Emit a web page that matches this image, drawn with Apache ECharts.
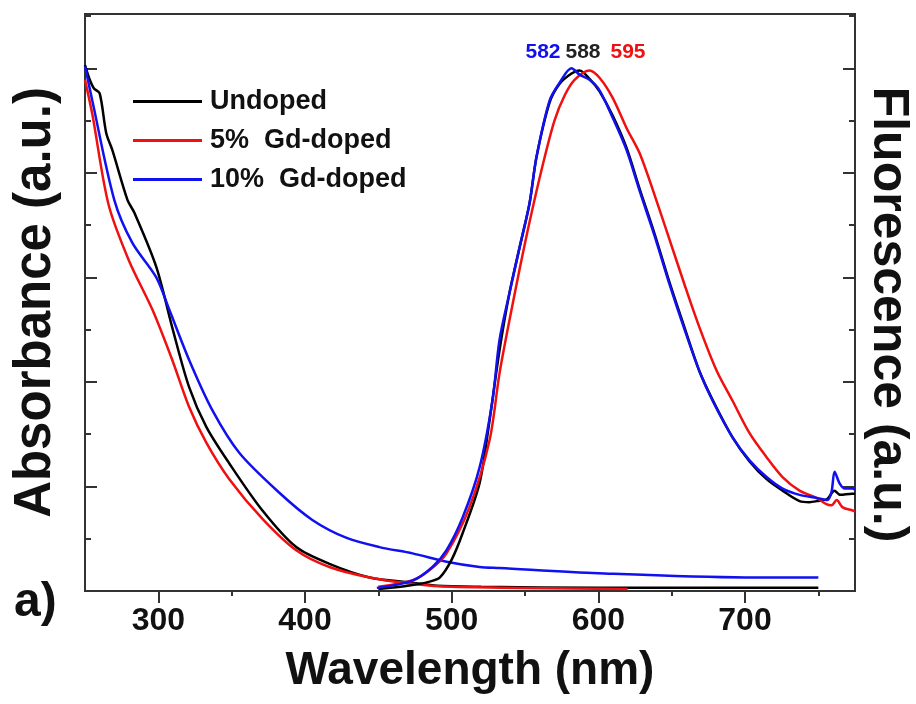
<!DOCTYPE html>
<html><head><meta charset="utf-8">
<script src="https://cdn.jsdelivr.net/npm/echarts@6/dist/echarts.min.js"></script>
<style>html,body{margin:0;padding:0;background:#fff}#c{width:916px;height:704px}</style>
</head><body><div id="c"></div>
<script>
// ---- tick values ----
const xMajorTicks = [300, 400, 500, 600, 700];
const xMinorTicks = [350, 450, 550, 650, 750];
const seriesNames = ['Undoped', '5%  Gd-doped', '10%  Gd-doped'];
const peakLabels = ['582', '588', '595'];

// ---- absorbance (nm, a.u.) ----
const absUndoped = [[250,5.03],[253,4.90],[256,4.81],[260,4.76],[264.5,4.38],[268.6,4.22],[279,3.74],[283.6,3.62],[298.6,3.10],[309.5,2.52],[321,1.95],[332.7,1.57],[348.4,1.22],[371,0.77],[394,0.42],[416.6,0.26],[444,0.13],[473,0.08],[490,0.05],[520,0.04],[600,0.03],[750,0.03]];
const absGd5 = [[250,4.89],[255,4.56],[266,3.70],[280,3.16],[296,2.69],[309.5,2.21],[321,1.76],[332.7,1.42],[348.4,1.07],[371,0.69],[394,0.39],[416.6,0.23],[444,0.13],[473,0.07],[500,0.04],[620,0.02]];
const absGd10 = [[250,5.02],[255,4.69],[270,3.74],[282.3,3.33],[298.6,3.00],[307.5,2.69],[321,2.21],[336.8,1.73],[355.3,1.32],[382.5,0.94],[405,0.68],[428,0.51],[450.7,0.42],[473.3,0.36],[496.5,0.28],[519,0.23],[532.6,0.22],[600,0.17],[700,0.13],[750,0.13]];

// ---- fluorescence (nm, a.u.) ----
const flUndoped = [[450,0.02],[470,0.05],[485,0.09],[492,0.13],[500,0.30],[507.4,0.55],[519,1.03],[525,1.55],[532.6,2.30],[539.4,2.85],[546.2,3.28],[553.1,3.71],[557.8,4.15],[566.7,4.67],[573.5,4.85],[581.7,4.95],[587.2,4.98],[594,4.90],[600.8,4.78],[609.7,4.55],[619.2,4.24],[628.1,3.85],[638.3,3.42],[648.6,2.95],[658.8,2.52],[669,2.10],[677.9,1.83],[691.5,1.47],[703.1,1.24],[714.7,1.07],[725.6,0.96],[737.2,0.86],[744,0.85],[749,0.86],[756,0.88],[761,0.96],[765,0.92],[773,0.93],[775,0.93]];
const flGd5 = [[450,0.04],[473,0.10],[485,0.20],[496.5,0.36],[512.1,0.80],[525.8,1.44],[532.6,2.08],[539.4,2.59],[546.2,3.07],[553.1,3.53],[562,4.07],[570.1,4.50],[577,4.74],[583.8,4.89],[594,4.98],[600.8,4.91],[609.7,4.72],[619.2,4.43],[628.1,4.19],[638.3,3.79],[648.6,3.36],[658.8,2.93],[669,2.52],[680.6,2.11],[691.5,1.82],[703.1,1.51],[714.7,1.28],[725.6,1.09],[737.2,0.96],[748.8,0.89],[755.5,0.83],[759,0.82],[762.5,0.87],[766.6,0.80],[773.4,0.77],[775,0.76]];
const flGd10 = [[449,0.03],[473.3,0.10],[486.9,0.23],[496.5,0.39],[507.4,0.70],[519,1.18],[527.8,1.82],[532.6,2.40],[539.4,2.85],[546.2,3.28],[553.1,3.71],[557.8,4.15],[566.7,4.69],[573.5,4.86],[581.7,5.00],[587.2,4.94],[594,4.89],[600.8,4.79],[609.7,4.53],[619.2,4.22],[628.1,3.83],[638.3,3.40],[648.6,2.93],[658.8,2.50],[669,2.10],[677.9,1.82],[691.5,1.47],[703.1,1.25],[714.7,1.09],[725.6,0.98],[737.2,0.92],[748.8,0.89],[756.2,0.87],[759,0.95],[761.1,1.14],[764.5,1.03],[768,0.98],[773.4,0.98],[775,0.97]];

const colors = ['#000000', '#f01010', '#1010f0'];
const SANS = "'Liberation Sans',Arial,sans-serif";
const AX = '#333';

function line(name, data, color, yIdx) {
  return {type:'line', name, data, yAxisIndex:yIdx, showSymbol:false, symbol:'none',
    smooth:0.3, lineStyle:{color, width:2.5}, itemStyle:{color}, z:2};
}
const yBase = {type:'value', min:0, max:5.52, interval:1,
  axisLine:{show:true, lineStyle:{color:AX, width:2}},
  axisTick:{show:true, inside:true, length:12, lineStyle:{color:AX, width:2}},
  minorTick:{show:true, splitNumber:2, length:6, lineStyle:{color:AX, width:2}},
  axisLabel:{show:false}, splitLine:{show:false}, minorSplitLine:{show:false}};

const chart = echarts.init(document.getElementById('c'), null, {renderer:'canvas'});
chart.setOption({
  animation:false,
  backgroundColor:'#fff',
  grid:{left:85, right:61, top:14, bottom:113, outerBoundsMode:'none', containLabel:false,
    show:true, borderColor:AX, borderWidth:2, backgroundColor:'transparent'},
  legend:{orient:'vertical', left:133, top:88, padding:0, itemWidth:69, itemHeight:3, itemGap:12, icon:'rect',
    data:seriesNames,
    textStyle:{fontFamily:SANS, fontWeight:'bold', fontSize:27, color:'#111', lineHeight:26, padding:[0,0,0,3]}},
  xAxis:[
    {type:'value', min:250, max:775, position:'bottom',
     axisLine:{show:true, onZero:false, lineStyle:{color:AX, width:2}},
     axisTick:{show:true, inside:false, length:12, customValues:xMajorTicks, lineStyle:{color:AX, width:2}},
     axisLabel:{customValues:xMajorTicks, fontFamily:SANS, fontWeight:'bold', fontSize:32, color:'#111', margin:14},
     splitLine:{show:false},
     name:'Wavelength (nm)', nameLocation:'middle', nameGap:57,
     nameTextStyle:{fontFamily:SANS, fontWeight:'bold', fontSize:46, color:'#111'}},
    {type:'value', min:250, max:775, position:'bottom',
     axisLine:{show:false, onZero:false},
     axisTick:{show:true, inside:false, length:5, customValues:xMinorTicks, lineStyle:{color:AX, width:2}},
     axisLabel:{show:false}, splitLine:{show:false}}
  ],
  yAxis:[
    Object.assign({}, yBase, {position:'left', name:'Absorbance (a.u.)', nameLocation:'middle', nameGap:24,
      nameTextStyle:{fontFamily:SANS, fontWeight:'bold', fontSize:51, color:'#111'}}),
    Object.assign({}, yBase, {position:'right', name:'Fluorescence (a.u.)', nameLocation:'middle', nameGap:8, nameRotate:-90,
      nameTextStyle:{fontFamily:SANS, fontWeight:'bold', fontSize:50, color:'#111', padding:[0,0,0,24]}})
  ],
  graphic:[
    {type:'text', left:14, top:579, style:{text:'a)', fontFamily:SANS, fontWeight:'bold', fontSize:48, fill:'#111'}},
    {type:'text', x:543, y:52, style:{text:peakLabels[0], fontFamily:SANS, fontWeight:'bold', fontSize:21, fill:colors[2], align:'center', verticalAlign:'middle'}},
    {type:'text', x:583, y:52, style:{text:peakLabels[1], fontFamily:SANS, fontWeight:'bold', fontSize:21, fill:'#222', align:'center', verticalAlign:'middle'}},
    {type:'text', x:628, y:52, style:{text:peakLabels[2], fontFamily:SANS, fontWeight:'bold', fontSize:21, fill:colors[1], align:'center', verticalAlign:'middle'}}
  ],
  series:[
    line(seriesNames[0], absUndoped, colors[0], 0),
    line(seriesNames[1], absGd5, colors[1], 0),
    line(seriesNames[2], absGd10, colors[2], 0),
    line(seriesNames[0], flUndoped, colors[0], 1),
    line(seriesNames[1], flGd5, colors[1], 1),
    line(seriesNames[2], flGd10, colors[2], 1)
  ]
});
</script></body></html>
